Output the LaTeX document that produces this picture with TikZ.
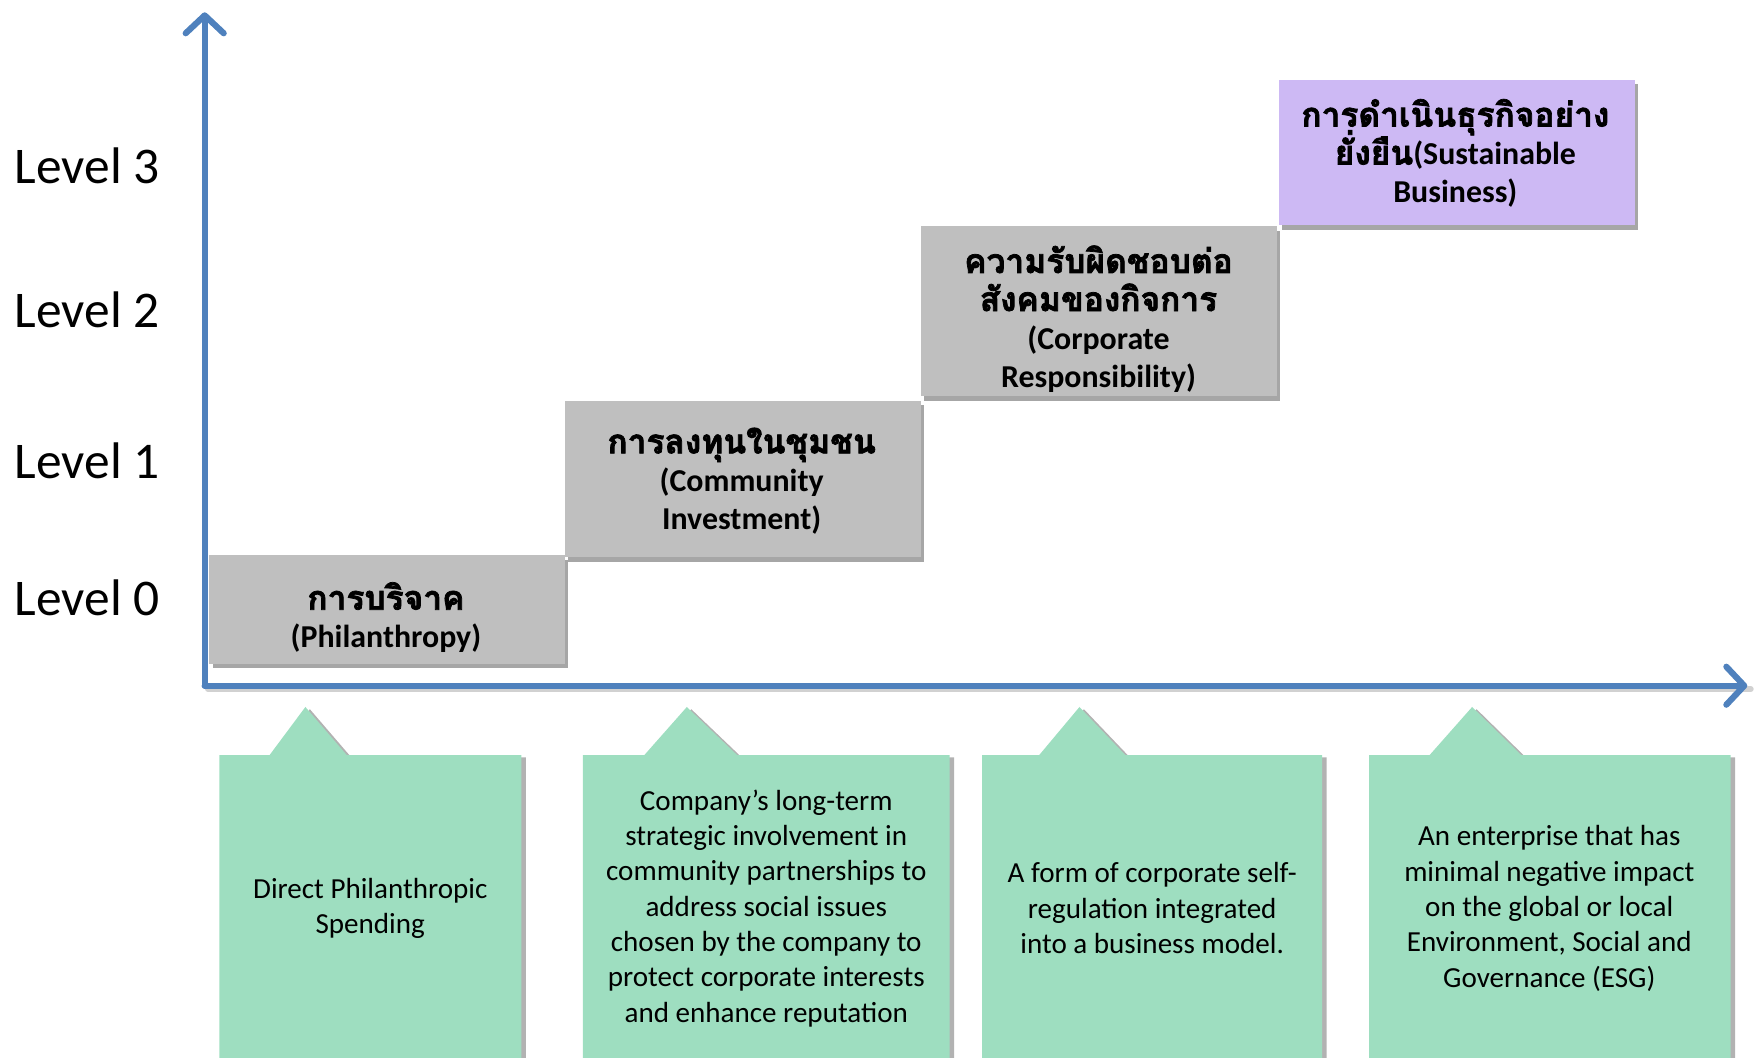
\documentclass[tikz,border=0pt]{standalone}
\usepackage{fontspec}
\setmainfont{Carlito}
\newfontfamily\thaifont[Script=Thai,FakeBold=2.2,Scale=1.05]{Loma}
\usetikzlibrary{arrows.meta,shadows}
\definecolor{axisblue}{RGB}{79,129,189}
\definecolor{boxgray}{RGB}{191,191,191}
\definecolor{boxpurple}{RGB}{205,185,244}
\definecolor{boxgreen}{RGB}{158,222,192}
\tikzset{
  levellabel/.style={font={\fontsize{46}{55}\selectfont}, anchor=center},
  axisline/.style={line width=5.5pt, axisblue, line cap=round,
     -{Straight Barb[length=16pt,width=34pt,round]}},
  axisshadow/.style={line width=5.5pt, black, opacity=0.18, line cap=round},
  stepbox/.style={fill=boxgray, draw=none, anchor=north west, inner sep=0pt,
     drop shadow={shadow xshift=3pt, shadow yshift=-4pt, opacity=0.35, fill=black}},
  steptext/.style={align=center, inner sep=0pt,
     font={\fontsize{28.5}{34}\selectfont\bfseries\lineskiplimit=-100pt}},
  greenshape/.style={fill=boxgreen, draw=none,
     drop shadow={shadow xshift=4pt, shadow yshift=-2pt, opacity=0.3, fill=black}},
  greentext/.style={align=center, inner sep=0pt,
     font={\fontsize{26}{31.6}\selectfont}}
}
\newcommand{\thtext}[1]{{\thaifont #1}}
\begin{document}
\begin{tikzpicture}[x=1pt,y=-1pt]
\useasboundingbox (0,0) rectangle (1568,945);

% level labels
\node[levellabel] (L3) at (78,148) {Level 3};
\node[levellabel] (L2) at (78,277) {Level 2};
\node[levellabel] (L1) at (78,412) {Level 1};
\node[levellabel] (L0) at (78,534) {Level 0};

% axes
\coordinate (O) at (183,613);
\coordinate (Ytip) at (183,11);
\coordinate (Xtip) at (1562,613);
\draw[axisshadow] ([shift={(3pt,-3pt)}]O) -- ([shift={(3pt,-3pt)}]Xtip|-O) ;
\draw[axisline] (O) -- (Ytip);
\draw[axisline] (O) -- (Xtip);

% step boxes
\node[stepbox, minimum width=318pt, minimum height=97pt] (b0) at (187,496) {};
\node[stepbox, minimum width=318pt, minimum height=140pt] (b1) at (505,358) {};
\node[stepbox, minimum width=318pt, minimum height=152pt] (b2) at (823,202) {};
\node[stepbox, fill=boxpurple, minimum width=318pt, minimum height=130pt] (b3) at (1143,71) {};

\node[steptext] (t0) at (345,552) {\thtext{การบริจาค}\\(Philanthropy)};
\node[steptext] (t1) at (663,430) {\thtext{การลงทุนในชุมชน}\\(Community\\Investment)};
\node[steptext] (t2) at (982,285) {\thtext{ความรับผิดชอบต่อ}\\\thtext{สังคมของกิจการ}\\(Corporate\\Responsibility)};
\node[steptext] (t3) at (1301,137) {\thtext{การดำเนินธุรกิจอย่าง}\\\thtext{ยั่งยืน}(Sustainable\\Business)};

% green callouts
\fill[greenshape] (196,675) -- (241,675) -- (273,632) -- (310,675) -- (466,675)
   -- (466,947) -- (196,947) -- cycle;
\fill[greenshape] (521,675) -- (576,675) -- (614,632) -- (659,675) -- (849,675)
   -- (849,947) -- (521,947) -- cycle;
\fill[greenshape] (878,675) -- (929,675) -- (965,632) -- (1006,675) -- (1182,675)
   -- (1182,947) -- (878,947) -- cycle;
\fill[greenshape] (1224,675) -- (1278,675) -- (1316,632) -- (1360,675) -- (1547,675)
   -- (1547,947) -- (1224,947) -- cycle;

\node[greentext] (g1) at (331,812) {Direct Philanthropic\\Spending};
\node[greentext] (g2) at (685,812) {Company's long-term\\strategic involvement in\\community partnerships to\\address social issues\\chosen by the company to\\protect corporate interests\\and enhance reputation};
\node[greentext] (g3) at (1030,812) {A form of corporate self-\\regulation integrated\\into a business model.};
\node[greentext] (g4) at (1385,812) {An enterprise that has\\minimal negative impact\\on the global or local\\Environment, Social and\\Governance (ESG)};
\end{tikzpicture}
\end{document}
